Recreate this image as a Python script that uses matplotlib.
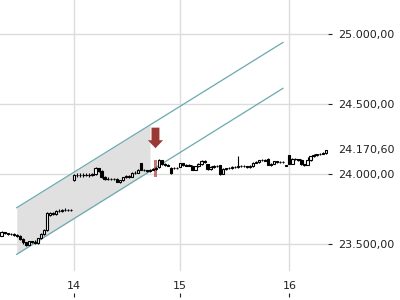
import numpy as np
import matplotlib
matplotlib.use("Agg")
import matplotlib.pyplot as plt
from matplotlib.patches import FancyArrow

# candle data (one entry per bar, x = bar index)
opens = [23560, 23582, 23575, 23570, 23572, 23566, 23560, 23535, 23512, 23495,
         23518, 23512, 23505, 23540, 23570, 23598, 23705, 23720, 23714, 23732,
         23736, 23740, 23744, 23745,
         23955, 23995, 23990, 23993, 23990, 23995, 23992, 23998, 24040, 24022,
         23978, 23966, 23966, 23962, 23964, 23940, 23955, 23975, 23985, 23980,
         24005, 24010, 24075, 24030, 24026, 24020, 24030, 24035, 24050, 24100,
         24070, 24065, 24045, 24040, 24045,
         24052, 24075, 24066, 24060, 24060, 24030, 24055, 24070, 24093, 24070,
         24035, 24050, 24055, 24062, 24000, 24035, 24040, 24044, 24048, 24050,
         24060, 24055, 24056, 24050, 24056, 24080, 24085, 24097, 24100, 24110,
         24066, 24074, 24092, 24085, 24086, 24062,
         24135, 24072, 24108, 24104, 24100, 24068, 24066, 24100, 24125, 24135,
         24140, 24145, 24150]
closes = [23585, 23575, 23570, 23572, 23566, 23560, 23535, 23512, 23492, 23518,
          23512, 23505, 23540, 23570, 23598, 23718, 23720, 23714, 23732, 23736,
          23740, 23744, 23745, 23740,
          23995, 23990, 23993, 23990, 23995, 23992, 23998, 24040, 24022, 23978,
          23966, 23966, 23962, 23964, 23945, 23955, 23975, 23985, 23980, 24005,
          24010, 24030, 24030, 24026, 24020, 24030, 24035, 24045, 24100, 24070,
          24065, 24060, 24005, 24045, 24044,
          24075, 24066, 24060, 24062, 24030, 24055, 24070, 24093, 24088, 24035,
          24050, 24055, 24060, 24000, 24035, 24040, 24044, 24048, 24050, 24060,
          24055, 24056, 24050, 24056, 24080, 24085, 24097, 24100, 24096, 24066,
          24074, 24092, 24085, 24086, 24083, 24058,
          24072, 24108, 24104, 24100, 24068, 24066, 24100, 24125, 24135, 24140,
          24145, 24150, 24170.6]
highs = [23590, 23585, 23578, 23578, 23576, 23570, 23562, 23540, 23515, 23522,
         23522, 23525, 23545, 23575, 23605, 23725, 23728, 23726, 23740, 23748,
         23752, 23755, 23752, 23748,
         24000, 24008, 24006, 24005, 24008, 24006, 24010, 24048, 24045, 24025,
         23982, 23975, 23970, 23972, 23968, 23960, 23980, 23992, 23990, 24012,
         24018, 24036, 24080, 24034, 24030, 24036, 24042, 24052, 24105, 24102,
         24075, 24070, 24048, 24052, 24050,
         24080, 24080, 24070, 24070, 24063, 24060, 24076, 24098, 24098, 24074,
         24055, 24062, 24066, 24065, 24040, 24046, 24050, 24055, 24056, 24130,
         24066, 24062, 24060, 24062, 24085, 24092, 24102, 24108, 24106, 24114,
         24080, 24096, 24096, 24090, 24090, 24064,
         24138, 24112, 24112, 24108, 24104, 24074, 24120, 24130, 24140, 24146,
         24150, 24156, 24172]
lows = [23555, 23568, 23565, 23564, 23560, 23552, 23528, 23500, 23485, 23490,
        23505, 23498, 23500, 23535, 23565, 23592, 23700, 23708, 23710, 23726,
        23730, 23734, 23738, 23736,
        23950, 23978, 23980, 23978, 23982, 23980, 23985, 23994, 24015, 23972,
        23960, 23958, 23955, 23955, 23940, 23935, 23950, 23970, 23972, 23976,
        23998, 24004, 24025, 24018, 24012, 24014, 24025, 24030, 24046, 24066,
        24058, 24054, 24000, 24036, 24038,
        24048, 24060, 24054, 24055, 24025, 24026, 24050, 24066, 24080, 24030,
        24030, 24045, 24050, 23996, 23998, 24030, 24034, 24038, 24042, 24045,
        24050, 24048, 24044, 24046, 24052, 24075, 24080, 24092, 24090, 24062,
        24060, 24070, 24080, 24080, 24078, 24056,
        24068, 24068, 24098, 24094, 24064, 24060, 24062, 24096, 24120, 24130,
        24136, 24140, 24146]

day_ticks = [24, 59, 95]
day_labels = ["14", "15", "16"]
price_ticks = [23500, 24000, 24500, 25000]
last_price = 24170.6

# trend channel
channel_x = [5.0, 92.9]
channel_upper = [23759, 24940]
channel_lower = [23426, 24612]
shade_end = 49.0

# sell signal
signal_x = 50.8
signal_low, signal_high = 23980, 24100


def de_fmt(v):
    s = f"{v:,.2f}"
    return s.replace(",", "X").replace(".", ",").replace("X", ".")


fig = plt.figure(figsize=(4, 3), dpi=100)
ax = fig.add_axes([0, 0.01, 0.82, 0.99])

x = np.arange(len(closes))
o = np.array(opens)
c = np.array(closes)

ax.set_xlim(-0.53, 107.76)
ax.set_ylim(23121, 25243)

# grid
ax.grid(axis="y", color="#dcdcdc", lw=1)
ax.set_axisbelow(True)
for d in day_ticks:
    ax.axvline(d, ymin=0.09, ymax=1, color="#dcdcdc", lw=1, zorder=0)

# channel
ax.plot(channel_x, channel_upper, color="#6aa9ae", lw=0.9, zorder=2)
ax.plot(channel_x, channel_lower, color="#6aa9ae", lw=0.9, zorder=2)
sx = np.array([channel_x[0], shade_end])
ax.fill_between(sx, np.interp(sx, channel_x, channel_lower),
                np.interp(sx, channel_x, channel_upper),
                color="#e0e0e0", lw=0, zorder=1)

# highlighted signal candle
ax.bar(signal_x, signal_high - signal_low, bottom=signal_low, width=0.9,
       color="#b54a47", alpha=0.75, lw=0, zorder=3)

# candles
ax.vlines(x, lows, highs, color="black", lw=0.8, zorder=4)
up = c >= o
body = np.where(np.abs(c - o) < 1, 1, c - o)
ax.bar(x, body, bottom=o, width=0.75,
       color=np.where(up, "white", "black"), edgecolor="black",
       lw=0.8, zorder=5)

# arrow
ax.add_patch(FancyArrow(signal_x, 24331, 0, -147, width=2.6, head_width=5.0,
                        head_length=57, length_includes_head=True,
                        color="#9b3a34", lw=0, zorder=6))

# axes styling
for s in ax.spines.values():
    s.set_visible(False)
ax.yaxis.tick_right()
ax.set_yticks(price_ticks)
ax.set_yticklabels([de_fmt(v) for v in price_ticks])
ax.tick_params(axis="y", length=3, width=0.8, pad=4, labelsize=8,
               colors="#222222")
ax.set_xticks(day_ticks)
ax.set_xticklabels(day_labels)
ax.tick_params(axis="x", direction="in", length=3, width=0.8, pad=-11.5,
               labelsize=8, colors="#222222")

ax.annotate(de_fmt(last_price), xy=(1, last_price),
            xycoords=("axes fraction", "data"), xytext=(7, 0),
            textcoords="offset points", va="center", ha="left",
            fontsize=8, color="#222222")

fig.savefig("out.png", dpi=100)
